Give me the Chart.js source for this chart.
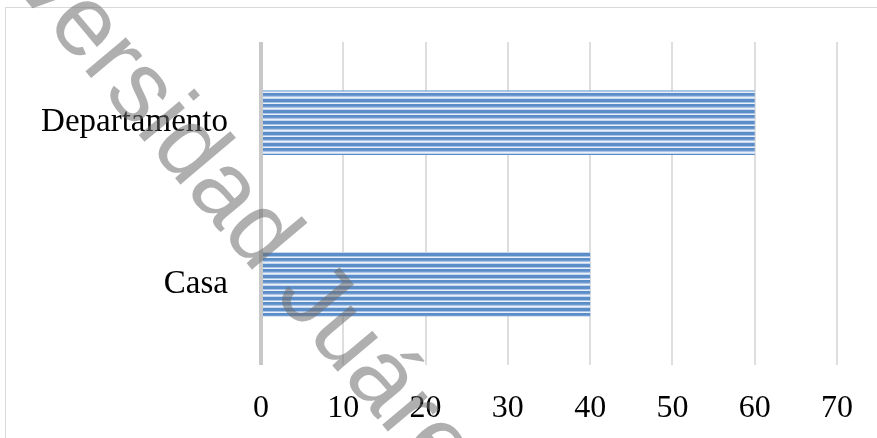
<!DOCTYPE html>
<html>
<head>
<meta charset="utf-8">
<script src="https://cdn.jsdelivr.net/npm/chart.js@4"></script>
<style>
  html, body { margin: 0; padding: 0; background: #fff; }
  #wrap { width: 877px; height: 438px; position: relative; }
</style>
</head>
<body>
<div id="wrap"><canvas id="barChart"></canvas></div>
<script>
const categories = ['Departamento', 'Casa'];
const values = [60, 40];
const xMin = 0, xMax = 70, xStep = 10;
const watermark = 'Universidad Juárez Autónoma de Tabasco';

// striped fill like the Excel pattern
function stripes() {
  const c = document.createElement('canvas');
  c.width = 8; c.height = 11;
  const g = c.getContext('2d');
  const rows = ['#5b8dc9','#5b8dc9','#5b8dc9','#a9c4e6','#eaf0f8',
                '#5b8dc9','#5b8dc9','#6f9ad0','#a9c4e6','#eaf0f8','#c6d7ee'];
  rows.forEach((col, i) => { g.fillStyle = col; g.fillRect(0, i, 8, 1); });
  return g.createPattern(c, 'repeat');
}

const frame = {
  id: 'frame',
  beforeDraw(chart) {
    const ctx = chart.ctx;
    ctx.save();
    ctx.strokeStyle = '#d9d9d9';
    ctx.lineWidth = 1;
    ctx.strokeRect(5.5, 7.5, 900, 500);
    ctx.restore();
  },
  afterDraw(chart) {
    const ctx = chart.ctx;
    ctx.save();
    ctx.font = '100px "Liberation Sans"';
    const a = 50 * Math.PI / 180;
    const w = ctx.measureText('Universidad ').width;
    const px = 274, py = 296; // where the J sits
    ctx.translate(px - w * Math.cos(a), py - w * Math.sin(a));
    ctx.rotate(a);
    ctx.fillStyle = 'rgba(110,110,110,0.55)';
    ctx.textBaseline = 'alphabetic';
    ctx.fillText(watermark, 0, 0);
    ctx.restore();
  }
};

new Chart(document.getElementById('barChart'), {
  type: 'bar',
  data: {
    labels: categories,
    datasets: [{
      data: values,
      backgroundColor: stripes(),
      borderWidth: 0,
      barPercentage: 0.4,
      categoryPercentage: 1
    }]
  },
  options: {
    indexAxis: 'y',
    responsive: true,
    maintainAspectRatio: false,
    animation: false,
    layout: { padding: { top: 42, right: 40, left: 0, bottom: 0 } },
    plugins: { legend: { display: false }, tooltip: { enabled: false } },
    scales: {
      x: {
        min: xMin, max: xMax,
        ticks: { stepSize: xStep, color: '#000', padding: 24,
                 font: { family: '"Liberation Serif"', size: 32 } },
        grid: {
          drawTicks: false,
          color: ctx => ctx.tick && ctx.tick.value === 0 ? '#c8c8c8' : '#dedede',
          lineWidth: ctx => ctx.tick && ctx.tick.value === 0 ? 4 : 2
        },
        border: { display: false },
        afterFit: s => { s.height = 73; s.paddingLeft = 0; s.paddingRight = 0; }
      },
      y: {
        ticks: { color: '#000', padding: 33,
                 font: { family: '"Liberation Serif"', size: 33 } },
        grid: { display: false, drawTicks: false },
        border: { display: false },
        afterFit: s => { s.width = 261; s.paddingTop = 0; s.paddingBottom = 0; }
      }
    }
  },
  plugins: [frame]
});
</script>
</body>
</html>
